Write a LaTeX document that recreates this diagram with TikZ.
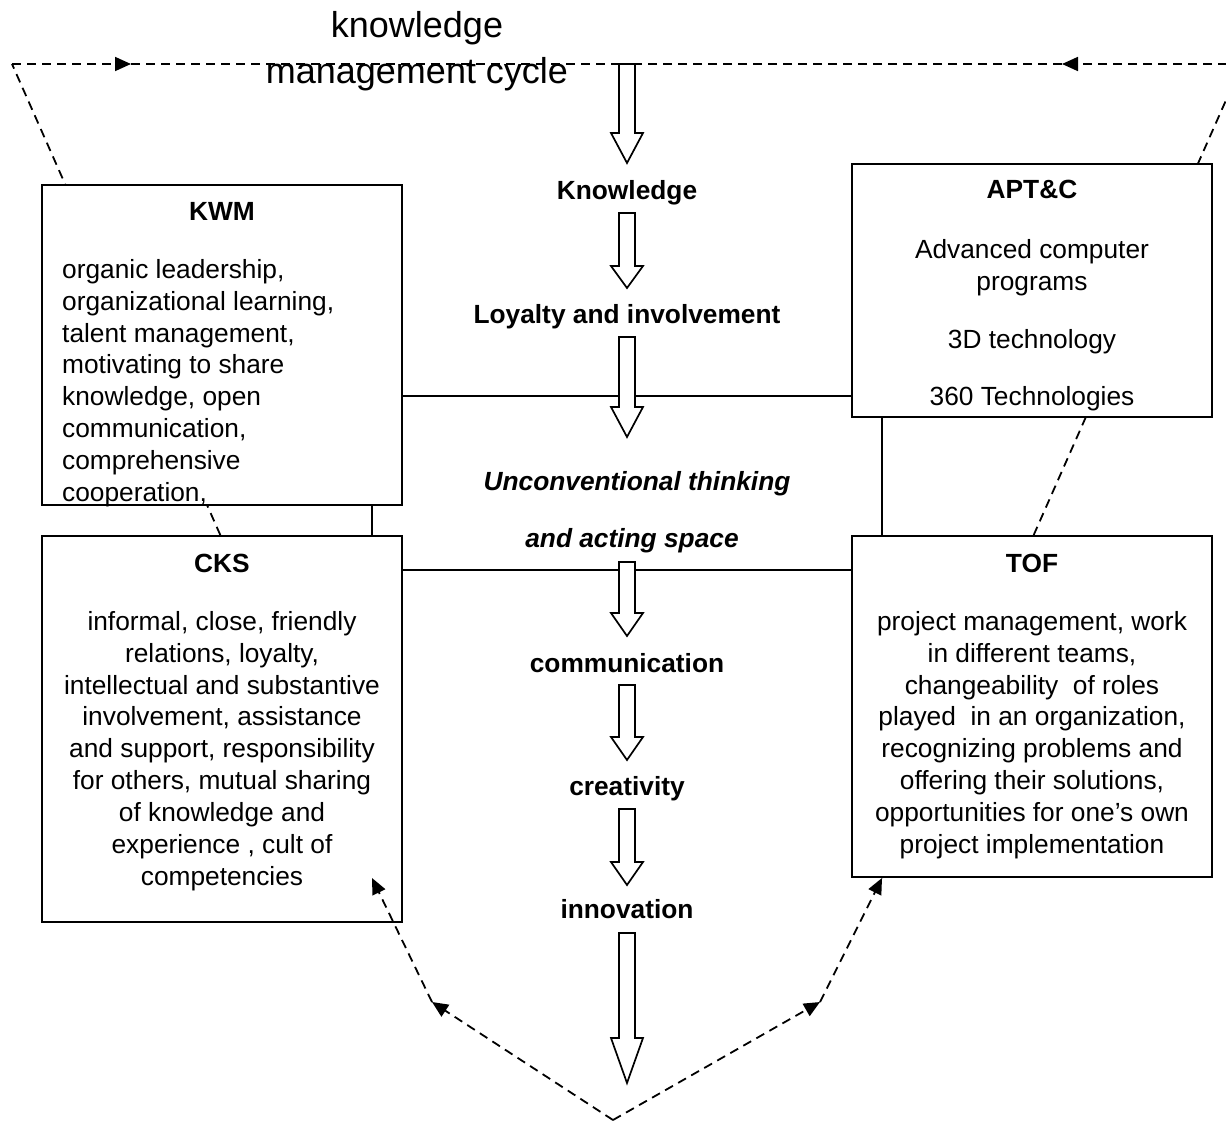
\documentclass[tikz,border=0pt]{standalone}
\usepackage{fontspec}
\setmainfont{Liberation Sans}
\usetikzlibrary{arrows.meta}

\begin{document}
\begin{tikzpicture}[x=1pt,y=-1pt,
  box/.style={draw, line width=2pt, fill=white, minimum width=360pt,
    anchor=north west, inner sep=0pt, outer sep=0pt},
  cyc/.style={line width=1.8pt, dash pattern=on 9pt off 6pt},
  cyctip/.style={cyc, -{Triangle[length=16pt,width=14pt]}},
  link/.style={line width=2pt},
  flow/.style={draw, line width=1.7pt, fill=white, line join=miter},
  body/.style={font=\fontsize{26.3}{31.9}\selectfont, inner sep=0pt, anchor=north},
  head/.style={font=\fontsize{26.3}{31.9}\selectfont\bfseries, inner sep=0pt, anchor=base},
  title/.style={font=\fontsize{36}{44}\selectfont, inner sep=0pt, anchor=base},
]
\useasboundingbox (0,0) rectangle (1226,1122);

% corner points of the knowledge management cycle
\coordinate (tl) at (12,64);
\coordinate (tr) at (1242,64);
\coordinate (bt) at (613,1120);
\coordinate (l1) at (432,1002);
\coordinate (l2) at (372,878);
\coordinate (r1) at (820,1002);
\coordinate (r2) at (882,878);
\coordinate (ta) at (131,64);
\coordinate (tb) at (1062,64);
\coordinate (top) at (627,64);

% long sides of the cycle, running behind the boxes
\draw[cyc] (l2) -- (tl);
\draw[cyc] (r2) -- (tr);

% the four boxes
\node[box, minimum height=320pt] (kwm) at (42,185) {};
\node[box, minimum height=253pt] (apt) at (852,164) {};
\node[box, minimum height=386pt] (cks) at (42,536) {};
\node[box, minimum height=341pt] (tof) at (852,536) {};

% solid links between the boxes
\coordinate (h1) at (0,396);
\coordinate (h2) at (0,570);
\coordinate (v1) at (372,0);
\coordinate (v2) at (882,0);
\draw[link] (kwm.east |- h1) -- (apt.west |- h1);
\draw[link] (cks.east |- h2) -- (tof.west |- h2);
\draw[link] (kwm.south -| v1) -- (cks.north -| v1);
\draw[link] (apt.south -| v2) -- (tof.north -| v2);

% directed parts of the cycle
\draw[cyctip] (bt) -- (l1);
\draw[cyctip] (l1) -- (l2);
\draw[cyctip] (bt) -- (r1);
\draw[cyctip] (r1) -- (r2);
\draw[cyctip] (tl) -- (ta);
\draw[cyc] (ta) -- (top);
\draw[cyctip] (tr) -- (tb);
\draw[cyc] (tb) -- (top);

% hollow block arrows down the centre
\foreach \t/\b/\p in {64/133/163, 213/266/288, 337/407/437, 562/613/636,
                      685/737/760, 809/862/885, 933/1038/1083}{
  \path[flow] (619,\t) -- (635,\t) -- (635,\b) -- (643,\b) -- (627,\p)
    -- (611,\b) -- (619,\b) -- cycle;
}

% title of the cycle
\node[title] (t1) at (417,37) {knowledge};
\node[title] (t2) at (417,83) {management cycle};

% centre chain
\node[head] (know)  at (627,199) {Knowledge};
\node[head] (loyal) at (627,323) {Loyalty and involvement};
\node[head, font=\fontsize{26.3}{31.9}\selectfont\bfseries\itshape] (unc1) at (637,490) {Unconventional thinking};
\node[head, font=\fontsize{26.3}{31.9}\selectfont\bfseries\itshape] (unc2) at (632,547) {and acting space};
\node[head] (comm)  at (627,672) {communication};
\node[head] (creat) at (627,795) {creativity};
\node[head] (innov) at (627,918) {innovation};

% box headings
\node[head] (kwmT) at (222,220) {KWM};
\node[head] (aptT) at (1032,198) {APT\&C};
\node[head] (cksT) at (222,572) {CKS};
\node[head] (tofT) at (1032,572) {TOF};

% box contents
\node[body, anchor=north west, align=left] (kwmB) at (62,255.67)
  {\strut organic leadership,\\ organizational learning,\\ talent management,\\
   motivating to share\\ knowledge, open\\ communication,\\ comprehensive\\ cooperation,};
\node[body, align=center] (aptB) at (1032,235.67)
  {\strut Advanced computer\\ programs\\[26pt] 3D technology\\[26pt] 360 Technologies};
\node[body, align=center] (cksB) at (222,607.67)
  {\strut informal, close, friendly\\ relations, loyalty,\\ intellectual and substantive\\
   involvement, assistance\\ and support, responsibility\\ for others, mutual sharing\\
   of knowledge and\\ experience , cult of\\ competencies};
\node[body, align=center] (tofB) at (1032,607.67)
  {\strut project management, work\\ in different teams,\\ changeability\ \ of roles\\
   played\ \ in an organization,\\ recognizing problems and\\ offering their solutions,\\
   opportunities for one’s own\\ project implementation};
\end{tikzpicture}
\end{document}
